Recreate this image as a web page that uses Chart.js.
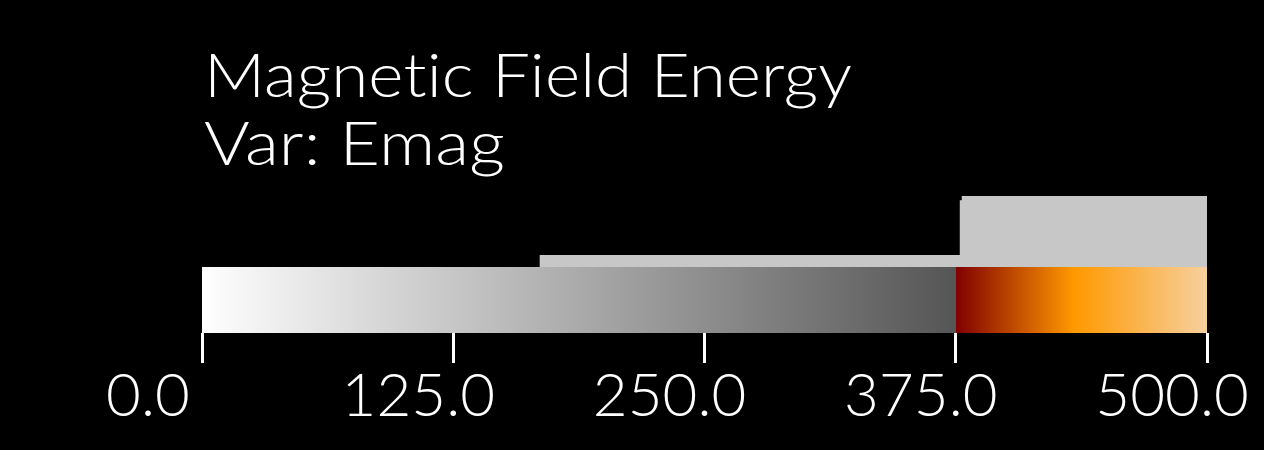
<!DOCTYPE html>
<html>
<head>
    <title>Magnetic Field Energy</title>
    <script src="https://cdn.jsdelivr.net/npm/chart.js@4/dist/chart.umd.min.js"></script>
    <style>
        body { margin: 0; background: #000; }
    </style>
</head>
<body>
    <canvas id="chartCanvas" width="1264" height="450"></canvas>

    <script>
        // Datele pentru legenda
        const titleLines = ['Magnetic Field Energy', 'Var: Emag'];
        const tickValues = [0, 125, 250, 375, 500];
        const tickLabels = ['0.0', '125.0', '250.0', '375.0', '500.0'];
        const rangeMin = 0;
        const rangeMax = 500;

        // Histograma deasupra barei (margini de bin si inaltimi relative)
        const histEdges = [0, 168, 377, 378, 500];
        const histCounts = [0, 0.17, 0.94, 1.0, 1.0];

        // Harta de culori
        const colorValues = [0, 375, 375, 434, 500];
        const colorList = ['#ffffff', '#555555', '#800000', '#ff9900', '#f6d09e'];

        const barDepth = 0.93;

        const ctx = document.getElementById('chartCanvas').getContext('2d');

        function colorbarFill(context) {
            const chart = context.chart;
            const xs = chart.scales.x;
            if (!chart.chartArea) return '#888';
            const x0 = xs.getPixelForValue(rangeMin);
            const x1 = xs.getPixelForValue(rangeMax);
            const g = chart.ctx.createLinearGradient(x0, 0, x1, 0);
            colorValues.forEach((v, i) => {
                g.addColorStop((v - rangeMin) / (rangeMax - rangeMin), colorList[i]);
            });
            return g;
        }

        // Textul (titlu + etichete) desenat peste grafic
        const textPlugin = {
            id: 'textPlugin',
            afterDraw(chart) {
                const c = chart.ctx;
                const xs = chart.scales.x;
                c.save();
                c.fillStyle = '#ffffff';
                c.textBaseline = 'alphabetic';
                c.textAlign = 'left';
                c.letterSpacing = '0.1px'; // fara ligaturi

                // titlu
                c.font = '300 62px Lato';
                const titleWidths = [648, 301];
                const titleBase = [97, 165];
                titleLines.forEach((t, i) => {
                    const w = c.measureText(t).width;
                    c.save();
                    c.translate(204, titleBase[i]);
                    c.scale(titleWidths[i] / w, 1);
                    c.fillText(t, 0, 0);
                    c.restore();
                });

                // etichete, punctul zecimal aliniat la tick
                c.font = '300 60px Lato';
                const shift = [-54, 0, 0, 0, 0];
                tickValues.forEach((v, i) => {
                    const label = tickLabels[i];
                    const px = xs.getPixelForValue(v);
                    const intPart = label.split('.')[0];
                    const wInt = c.measureText(intPart).width;
                    const wDot = c.measureText('.').width;
                    c.fillText(label, px - wInt - wDot / 2 + shift[i], 416);
                });
                c.restore();
            }
        };

        const chart = new Chart(ctx, {
            type: 'line',
            data: {
                datasets: [
                    {
                        label: 'histogram',
                        data: histEdges.map((e, i) => ({ x: e, y: histCounts[i] })),
                        stepped: 'before',
                        borderWidth: 0,
                        borderColor: 'rgba(0,0,0,0)',
                        backgroundColor: '#c7c7c7',
                        fill: 'origin',
                        pointRadius: 0,
                    },
                    {
                        label: 'colorbar',
                        data: [{ x: rangeMin, y: 0 }, { x: rangeMax, y: 0 }],
                        borderWidth: 0,
                        borderColor: 'rgba(0,0,0,0)',
                        backgroundColor: colorbarFill,
                        fill: { value: -barDepth },
                        pointRadius: 0,
                    },
                ],
            },
            options: {
                responsive: false,
                animation: false,
                devicePixelRatio: 1,
                layout: {
                    padding: { left: 202, right: 57, top: 196, bottom: 87 },
                },
                plugins: {
                    legend: { display: false },
                    tooltip: { enabled: false },
                },
                scales: {
                    x: {
                        type: 'linear',
                        min: rangeMin,
                        max: rangeMax,
                        afterBuildTicks: s => { s.ticks = tickValues.map(v => ({ value: v })); },
                        ticks: { display: false },
                        border: { display: false },
                        grid: {
                            drawOnChartArea: false,
                            drawTicks: true,
                            tickLength: 30,
                            tickWidth: 3,
                            tickColor: '#ffffff',
                        },
                    },
                    y: {
                        display: false,
                        min: -barDepth,
                        max: 1.0,
                    },
                },
            },
            plugins: [textPlugin],
        });
    </script>
</body>
</html>
